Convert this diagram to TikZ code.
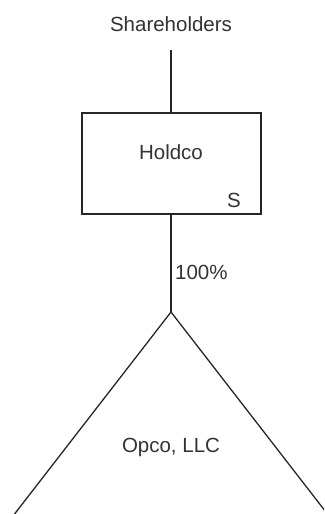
\documentclass[tikz,border=0pt]{standalone}
\usepackage{fontspec}
\setmainfont{Liberation Sans}
\begin{document}
\begin{tikzpicture}[x=1pt,y=1pt,
  lbl/.style={inner sep=0pt,text=black!80,font=\fontsize{20.5}{24}\selectfont},
  ln/.style={draw=black!85,line width=1.3pt}]
\useasboundingbox (0,0) rectangle (324,-514);
\clip (0,0) rectangle (324,-514);
\node[lbl] (sh) at (171,-24) {Shareholders};
\coordinate (shline) at (171,-50);
\node[ln,minimum width=179,minimum height=101,inner sep=0pt] (hold) at (171.5,-163.5) {};
\node[lbl] (holdlbl) at (171,-152) {Holdco};
\node[lbl] (s) at (234,-200) {S};
\coordinate (apex) at (171,-312);
\coordinate (bl) at (13,-516);
\coordinate (br) at (329,-516);
\node[lbl,anchor=west] (pct) at (175,-272) {100\%};
\node[lbl] (opco) at (171,-447) {Opco, LLC};
\draw[ln] (shline) -- (hold.north -| shline);
\draw[ln] (hold.south -| apex) -- (apex);
\draw[ln,line join=miter] (bl) -- (apex) -- (br);
\end{tikzpicture}
\end{document}
